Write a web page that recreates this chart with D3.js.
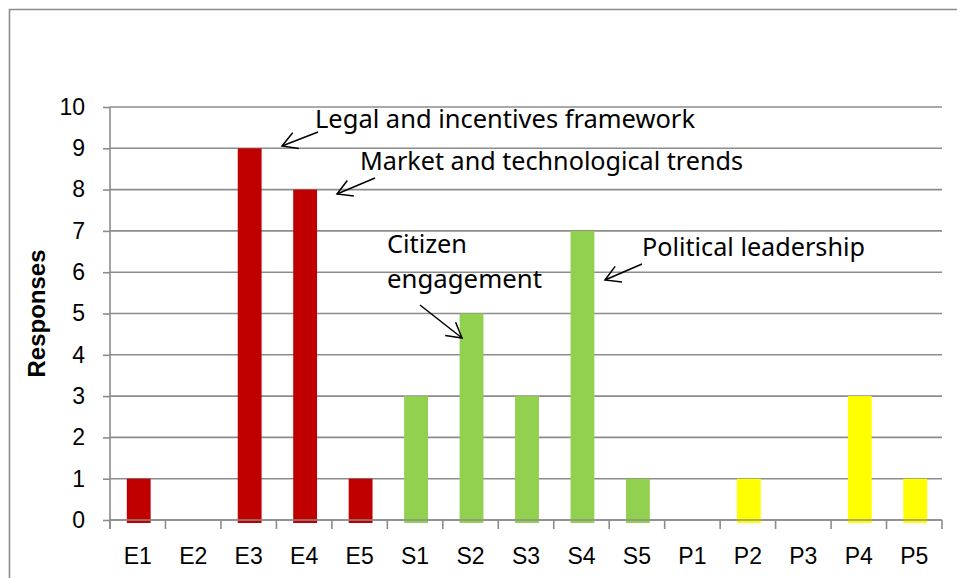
<!DOCTYPE html>
<html>
<head>
<meta charset="utf-8">
<script src="https://cdn.jsdelivr.net/npm/d3@7"></script>
<style>
  body { margin: 0; background: #fff; }
  .tick text { font-family: Arial, "Liberation Sans", sans-serif; font-size: 23px; fill: #000; }
  .note { font-family: "Noto Sans", sans-serif; font-size: 25px; fill: #000; }
</style>
</head>
<body>
<div id="chart"></div>
<script>
// Data
let categories = ['E1', 'E2', 'E3', 'E4', 'E5', 'S1', 'S2', 'S3', 'S4', 'S5', 'P1', 'P2', 'P3', 'P4', 'P5'];
let responses = [1, 0, 9, 8, 1, 3, 5, 3, 7, 1, 0, 1, 0, 3, 1];
let yTicks = [0, 1, 2, 3, 4, 5, 6, 7, 8, 9, 10];
let groupColors = { E: '#C00000', S: '#92D050', P: '#FFFF00' };

// Notes and their rendered widths
let notes = [
  { lines: ['Legal and incentives framework'], len: [380] },
  { lines: ['Market and technological trends'], len: [383] },
  { lines: ['Citizen', 'engagement'], len: [80, 155] },
  { lines: ['Political leadership'], len: [223] }
];

// Dimensions
let W = 957, H = 578;
let margin = { left: 110, right: 15, top: 107, bottom: 58 };
let width = W - margin.left - margin.right;
let height = H - margin.top - margin.bottom;

// Scales
let x = d3.scaleBand().domain(categories).range([0, width]).padding(0);
let y = d3.scaleLinear().domain([0, 10]).range([height, 0]);
let barW = x.bandwidth() * 0.43;

let root = d3.select('#chart').append('svg')
  .attr('width', W).attr('height', H);

// Outer frame (right and bottom edges fall outside the picture)
root.append('path')
  .attr('d', `M9.5,${H + 5}V9.5H${W + 5}`)
  .attr('fill', 'none').attr('stroke', '#8c8c8c').attr('stroke-width', 1.6);

let svg = root.append('g')
  .attr('transform', `translate(${margin.left},${margin.top})`);

// Gridlines
svg.selectAll('.grid').data(yTicks).enter().append('line')
  .attr('x1', 0).attr('x2', width)
  .attr('y1', d => y(d)).attr('y2', d => y(d))
  .attr('stroke', '#8c8c8c').attr('stroke-width', 1.6);

// Bars
svg.selectAll('.bar').data(categories).enter().append('rect')
  .attr('x', d => x(d) + (x.bandwidth() - barW) / 2 + 1)
  .attr('y', (d, i) => y(responses[i]))
  .attr('width', barW)
  .attr('height', (d, i) => responses[i] > 0 ? height - y(responses[i]) + 3 : 0)
  .attr('fill', d => groupColors[d[0]]);

// Axes
let yAxis = svg.append('g')
  .call(d3.axisLeft(y).tickValues(yTicks).tickSize(7).tickPadding(18).tickFormat(d3.format('d')));
let xAxis = svg.append('g')
  .attr('transform', `translate(0,${height})`)
  .call(d3.axisBottom(x).tickSize(0).tickPadding(28));
// tick marks at category boundaries
svg.selectAll('.xtick').data(categories.concat(['end'])).enter().append('line')
  .attr('x1', d => d === 'end' ? width : x(d)).attr('x2', d => d === 'end' ? width : x(d))
  .attr('y1', height).attr('y2', height + 9)
  .attr('stroke', '#8c8c8c').attr('stroke-width', 1.6);
[yAxis, xAxis].forEach(a => {
  a.selectAll('.domain').remove();
  a.selectAll('.tick line').attr('stroke', '#8c8c8c').attr('stroke-width', 1.6);
  a.selectAll('.tick text').attr('font-family', null).attr('font-size', null);
});
svg.append('line')
  .attr('x1', 0).attr('x2', 0).attr('y1', 0).attr('y2', height + 9)
  .attr('stroke', '#8c8c8c').attr('stroke-width', 1.6);
svg.append('line')
  .attr('x1', 0).attr('x2', width).attr('y1', height).attr('y2', height)
  .attr('stroke', '#8c8c8c').attr('stroke-width', 1.6);

// Y label
root.append('text')
  .attr('transform', `translate(45,${margin.top + y(5)}) rotate(-90)`)
  .attr('text-anchor', 'middle')
  .attr('font-family', 'Arial, "Liberation Sans", sans-serif')
  .attr('font-size', 24).attr('font-weight', 'bold')
  .text('Responses');

// Annotations
let notePos = [
  { tx: 315, ty: [128], from: [318, 132], to: [282, 146] },
  { tx: 360, ty: [170], from: [375, 178], to: [337, 194] },
  { tx: 387, ty: [253, 288], from: [420, 305], to: [462, 338] },
  { tx: 642, ty: [256], from: [642, 264], to: [605, 280] }
];

function arrow(g, p0, p1) {
  let ang = Math.atan2(p1[1] - p0[1], p1[0] - p0[0]);
  let L = 17, sp = 0.52;
  g.append('line')
    .attr('x1', p0[0]).attr('y1', p0[1]).attr('x2', p1[0]).attr('y2', p1[1])
    .attr('stroke', '#000').attr('stroke-width', 1.5);
  g.append('path')
    .attr('d', `M${p1[0] - L * Math.cos(ang - sp)},${p1[1] - L * Math.sin(ang - sp)}L${p1[0]},${p1[1]}L${p1[0] - L * Math.cos(ang + sp)},${p1[1] - L * Math.sin(ang + sp)}`)
    .attr('fill', 'none').attr('stroke', '#000').attr('stroke-width', 1.5);
}

notes.forEach((n, i) => {
  let p = notePos[i];
  n.lines.forEach((t, j) => {
    root.append('text').attr('class', 'note')
      .attr('x', p.tx).attr('y', p.ty[j])
      .attr('textLength', n.len[j]).attr('lengthAdjust', 'spacingAndGlyphs')
      .text(t);
  });
  arrow(root, p.from, p.to);
});
</script>
</body>
</html>
